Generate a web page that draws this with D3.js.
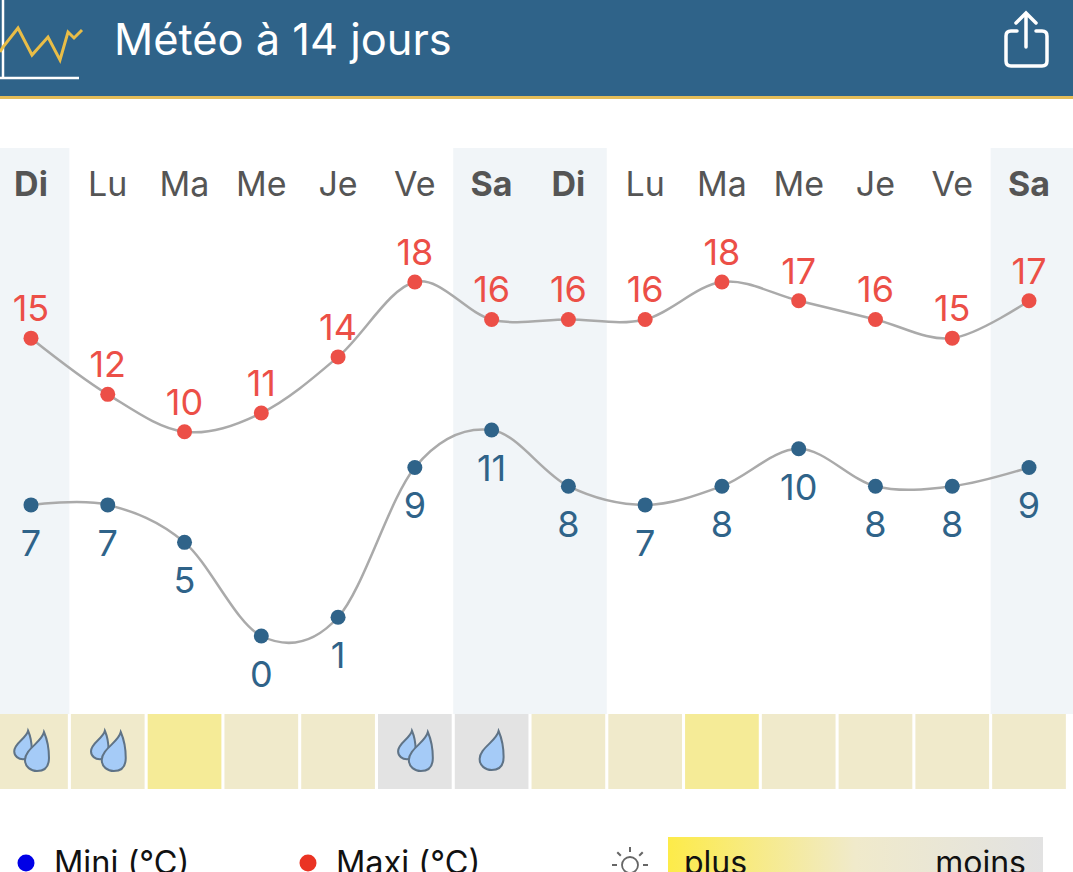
<!DOCTYPE html>
<html>
<head>
<meta charset="utf-8">
<style>
html, body { margin: 0; padding: 0; background: #fff; overflow: hidden; }
svg { display: block; font-family: Inter, "Noto Sans", sans-serif; }
</style>
<script src="https://cdn.jsdelivr.net/npm/d3@7"></script>
</head>
<body>
<svg width="1073" height="872"></svg>
<script>
var days = ["Di", "Lu", "Ma", "Me", "Je", "Ve", "Sa", "Di", "Lu", "Ma", "Me", "Je", "Ve", "Sa"];
var maxi = [15, 12, 10, 11, 14, 18, 16, 16, 16, 18, 17, 16, 15, 17];
var mini = [7, 7, 5, 0, 1, 9, 11, 8, 7, 8, 10, 8, 8, 9];
// 0 = plus de soleil, 1 = moyen, 2 = moins
var sun = [1, 1, 0, 1, 1, 2, 2, 1, 1, 0, 1, 1, 1, 1];
var drops = [2, 2, 0, 0, 0, 2, 1, 0, 0, 0, 0, 0, 0, 0];

var cfg = {
    width: 1073,
    bandTop: 148,
    cellTop: 714,
    cellBottom: 789,
    blue: "#2f6389",
    red: "#ec4f47"
};

var svg = d3.select("svg");
var idx = d3.range(days.length);

var xBand = d3.scaleBand().domain(idx).range([-7.4, 1067.4]).paddingInner(0.04).paddingOuter(0.02);
var x = function (i) { return xBand(i) + xBand.bandwidth() / 2; };

// two separate scales: the two curves do not share a zero
var yMax = d3.scaleLinear().domain([0, 18]).range([619, 282]);
var yMin = d3.scaleLinear().domain([0, 11]).range([636, 430]);
var sunColor = d3.scaleOrdinal().domain([0, 1, 2]).range(["#f5eb97", "#f0eacb", "#e3e3e3"]);

// fond des week-ends
svg.selectAll("rect.weekend")
    .data(idx.filter(function (i) { return days[i] === "Di" || days[i] === "Sa"; }))
    .enter().append("rect")
    .attr("class", "weekend")
    .attr("x", function (i) { return x(i) - xBand.step() / 2; })
    .attr("y", cfg.bandTop)
    .attr("width", xBand.step() + 8)
    .attr("height", cfg.cellTop - cfg.bandTop)
    .attr("fill", "#f1f5f8")
    .attr("width", function (i) { return i === days.length - 1 ? xBand.step() + 8 : xBand.step(); });

// jours
svg.selectAll("text.day")
    .data(idx)
    .enter().append("text")
    .attr("class", "day")
    .attr("x", x)
    .attr("y", 196)
    .attr("text-anchor", "middle")
    .attr("font-size", 34)
    .attr("font-weight", function (i) { return days[i] === "Di" || days[i] === "Sa" ? 700 : 400; })
    .attr("fill", "#555")
    .text(function (i) { return days[i]; });

// courbes
var drawSeries = function (values, y, color, dy) {
    var line = d3.line()
        .x(function (d, i) { return x(i); })
        .y(function (d) { return y(d); })
        .curve(d3.curveCardinal.tension(0));
    svg.append("path")
        .attr("d", line(values))
        .attr("fill", "none")
        .attr("stroke", "#aaa")
        .attr("stroke-width", 2.5);
    var g = svg.append("g");
    g.selectAll("circle")
        .data(values)
        .enter().append("circle")
        .attr("cx", function (d, i) { return x(i); })
        .attr("cy", y)
        .attr("r", 7.5)
        .attr("fill", color);
    g.selectAll("text")
        .data(values)
        .enter().append("text")
        .attr("x", function (d, i) { return x(i); })
        .attr("y", function (d) { return y(d) + dy; })
        .attr("text-anchor", "middle")
        .attr("font-size", 36)
        .attr("fill", color)
        .text(function (d) { return d; });
};
drawSeries(maxi, yMax, cfg.red, -17);
drawSeries(mini, yMin, cfg.blue, 51);

// cases soleil
svg.selectAll("rect.cell")
    .data(idx)
    .enter().append("rect")
    .attr("class", "cell")
    .attr("x", function (i) { return xBand(i); })
    .attr("y", cfg.cellTop)
    .attr("width", xBand.bandwidth())
    .attr("height", cfg.cellBottom - cfg.cellTop)
    .attr("fill", function (i) { return sunColor(sun[i]); });

// gouttes
var dropPath = "M7,-25 C5,-15 -12,-8 -12,3 C-12,10 -6,14 0,14 C8,14 12,10 12,1 C12,-8 10,-18 7,-25 Z";
var drawDrop = function (cx, cy, k) {
    svg.append("path")
        .attr("d", dropPath)
        .attr("transform", "translate(" + cx + "," + cy + ") scale(" + k + ")")
        .attr("fill", "#a5cbf7")
        .attr("stroke", "#5f7386")
        .attr("stroke-width", 2 / k);
};
idx.forEach(function (i) {
    if (drops[i] === 2) {
        drawDrop(x(i) - 8, 749, 0.73);
        drawDrop(x(i) + 6, 757, 1);
    } else if (drops[i] === 1) {
        drawDrop(x(i), 756, 1);
    }
});

// en-tête
svg.append("rect").attr("width", cfg.width).attr("height", 96).attr("fill", cfg.blue);
svg.append("rect").attr("y", 96).attr("width", cfg.width).attr("height", 3).attr("fill", "#e5bd58");
svg.append("path")
    .attr("d", "M3,0 V78 M0,78 H79")
    .attr("fill", "none")
    .attr("stroke", "#fff")
    .attr("stroke-width", 2.5);
svg.append("path")
    .attr("d", "M0,52 L3,47 L18,28 L32,55 L48,37 L60,60 L68,32 L74,38 L82,30")
    .attr("fill", "none")
    .attr("stroke", "#e9bd47")
    .attr("stroke-width", 3);
svg.append("text")
    .attr("x", 114)
    .attr("y", 55)
    .attr("font-size", 43.4)
    .attr("fill", "#fff")
    .text("Météo à 14 jours");
// partage
svg.append("path")
    .attr("d", "M1017,31 H1011 Q1006,31 1006,36 V61 Q1006,66 1011,66 H1042 Q1047,66 1047,61 V36 Q1047,31 1042,31 H1036 M1026,47 V14 M1016,23 L1026,13 L1036,23")
    .attr("fill", "none")
    .attr("stroke", "#fff")
    .attr("stroke-width", 3.5)
    .attr("stroke-linecap", "round");

// légende
var legend = [
    {label: "Mini (°C)", color: "#0000e6", cx: 26, tx: 54},
    {label: "Maxi (°C)", color: "#ea3323", cx: 308, tx: 336}
];
legend.forEach(function (d) {
    svg.append("circle").attr("cx", d.cx).attr("cy", 863).attr("r", 8.5).attr("fill", d.color);
    svg.append("text").attr("x", d.tx).attr("y", 874).attr("font-size", 32.5).attr("fill", "#111").text(d.label);
});

var grad = svg.append("defs").append("linearGradient").attr("id", "sun-gradient");
grad.append("stop").attr("offset", "0%").attr("stop-color", "#fdeb49");
grad.append("stop").attr("offset", "50%").attr("stop-color", "#f0eacb");
grad.append("stop").attr("offset", "100%").attr("stop-color", "#e2e2e2");
svg.append("rect")
    .attr("x", 668).attr("y", 837).attr("width", 375).attr("height", 35)
    .attr("fill", "url(#sun-gradient)");
svg.append("text").attr("x", 684).attr("y", 874).attr("font-size", 32).attr("fill", "#111").text("plus");
svg.append("text").attr("x", 1026).attr("y", 874).attr("text-anchor", "end").attr("font-size", 32).attr("fill", "#111").text("moins");

// petit soleil
var sunIcon = svg.append("g").attr("transform", "translate(630,865)");
sunIcon.append("circle").attr("r", 8).attr("fill", "none").attr("stroke", "#666").attr("stroke-width", 1.8);
d3.range(8).forEach(function (k) {
    var a = k * Math.PI / 4;
    sunIcon.append("line")
        .attr("x1", 13 * Math.cos(a)).attr("y1", 13 * Math.sin(a))
        .attr("x2", 18 * Math.cos(a)).attr("y2", 18 * Math.sin(a))
        .attr("stroke", "#666").attr("stroke-width", 2);
});
</script>
</body>
</html>
